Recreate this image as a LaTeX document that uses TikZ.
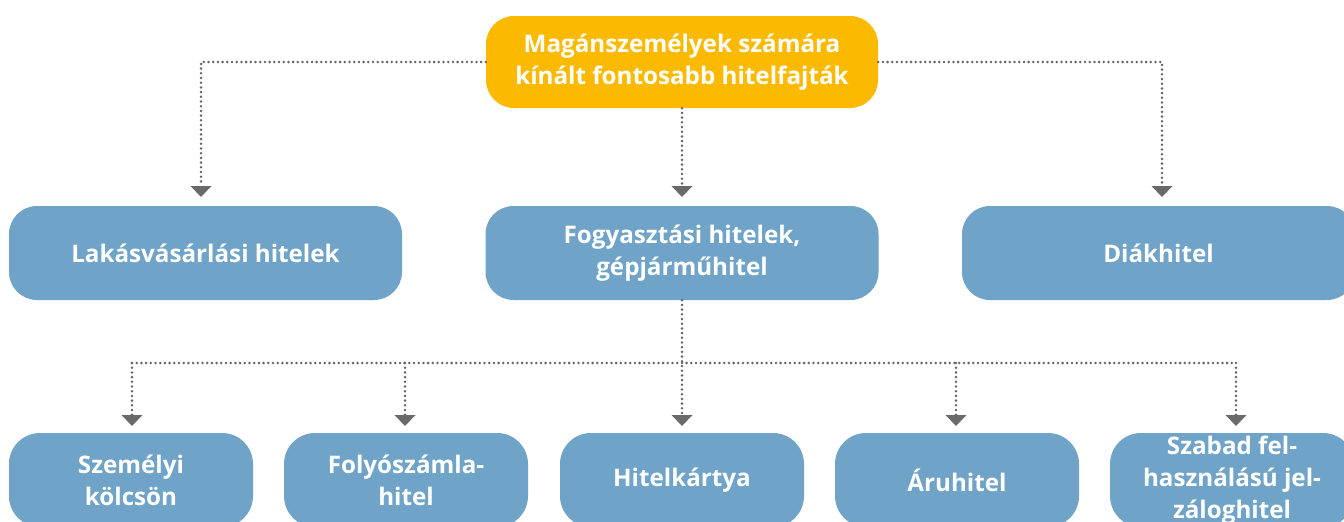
\documentclass[tikz,border=0pt]{standalone}
\usepackage{fontspec}
\setmainfont{Open Sans}
\usetikzlibrary{arrows.meta}
\definecolor{orangebox}{HTML}{FBBA00}
\definecolor{bluebox}{HTML}{6FA3C7}
\definecolor{dotgray}{HTML}{666666}
\definecolor{arrowgray}{HTML}{6A6A6A}
\begin{document}
\begin{tikzpicture}[x=1pt,y=-1pt,
  basebox/.style={rounded corners=28pt, inner sep=0pt, align=center, text=white,
    font=\fontsize{24.2}{32}\selectfont\bfseries},
  topbox/.style={basebox, fill=orangebox, minimum width=392pt, minimum height=92pt},
  midbox/.style={basebox, fill=bluebox, minimum width=393pt, minimum height=94pt},
  lowbox/.style={basebox, fill=bluebox, rounded corners=31pt, minimum width=244pt, minimum height=94pt},
  conn/.style={draw=dotgray, line width=2.8pt, dash pattern=on 0pt off 4.7pt, line cap=round},
  arr/.style={conn, -{Triangle[width=21pt,length=11pt,line width=0pt,fill=arrowgray,color=arrowgray]}}]
\clip (0,0) rectangle (1344,522);
\fill[white] (0,0) rectangle (1344,522);

% nodes
\node[topbox] (top) at (682,62) {Magánszemélyek számára\\kínált fontosabb hitelfajták};
\node[midbox] (lak) at (205.5,253) {Lakásvásárlási hitelek};
\node[midbox] (fog) at (682,253) {Fogyasztási hitelek,\\gépjárműhitel};
\node[midbox] (dia) at (1158.5,253) {Diákhitel};

\node[lowbox] (b1) at (131,480) {Személyi\\kölcsön};
\node[lowbox] (b2) at (406,480) {Folyószámla-\\hitel};
\node[lowbox] (b3) at (682,480) {Hitelkártya};
\node[lowbox] (b4) at (957,480) {Áruhitel};
\node[lowbox] (b5) at (1232,480) {Szabad fel-\\használású jel-\\záloghitel};

% coordinates
\coordinate (a1) at (201,197);
\coordinate (a2) at (682,197);
\coordinate (a3) at (1162,197);
\coordinate (hl) at (132,363);
\coordinate (hm2) at (405,363);
\coordinate (hm4) at (956,363);
\coordinate (hr) at (1236,363);
\coordinate (c1) at (132,426);
\coordinate (c2) at (405,426);
\coordinate (c3) at (682,426);
\coordinate (c4) at (956,426);
\coordinate (c5) at (1236,426);

% connectors
\draw[arr] (top.west) -| (a1);
\draw[arr] (top.south) -- (a2);
\draw[arr] (top.east) -| (a3);

\draw[conn] (hl) -- (hr);
\draw[arr] (fog.south) -- (c3);
\draw[arr] (hl) -- (c1);
\draw[arr] (hm2) -- (c2);
\draw[arr] (hm4) -- (c4);
\draw[arr] (hr) -- (c5);
\end{tikzpicture}
\end{document}
